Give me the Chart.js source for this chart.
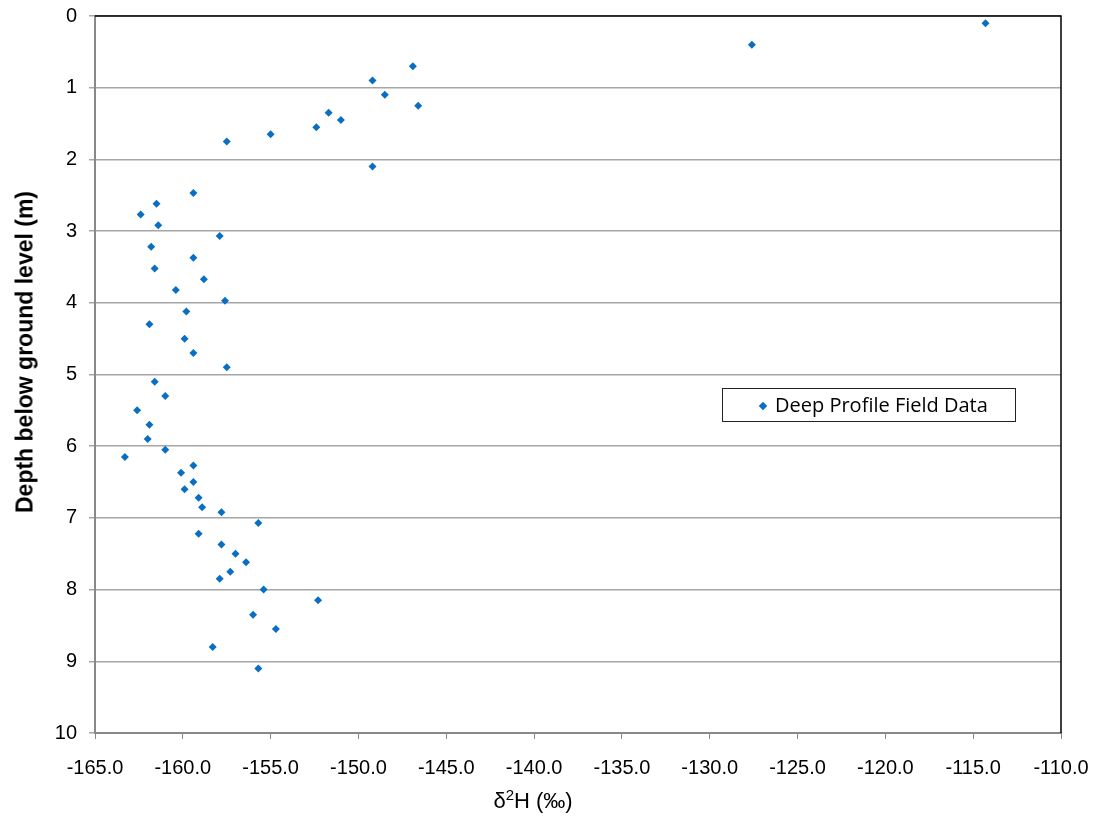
<!DOCTYPE html>
<html lang="en">
<head>
    <meta charset="UTF-8">
    <title>Deep Profile Field Data</title>
    <style>
        body {
            margin: 0;
            background: #ffffff;
            font-family: "Liberation Sans", Arial, sans-serif;
        }

        #wrap {
            position: relative;
            width: 1100px;
            height: 820px;
        }

        #yTitle {
            position: absolute;
            left: 25px;
            top: 352px;
            transform: translate(-50%, -50%) rotate(-90deg);
            font-size: 23px;
            font-weight: bold;
            white-space: nowrap;
            color: #000;
        }

        #xTitle {
            position: absolute;
            left: 533px;
            top: 800px;
            transform: translate(-50%, -50%);
            font-size: 22px;
            white-space: nowrap;
            color: #000;
        }

        #xTitle sup {
            font-size: 15px;
        }

        #legendBox {
            position: absolute;
            left: 722px;
            top: 388px;
            width: 292px;
            height: 32px;
            border: 1.5px solid #222;
            font-family: "Open Sans", sans-serif;
            font-size: 20px;
            line-height: 32px;
            color: #000;
        }

        #legendBox .mark {
            display: inline-block;
            width: 6px;
            height: 6px;
            background: #0a6fc2;
            transform: rotate(45deg);
            margin: 0 9px 3px 37px;
        }
    </style>
    <script src="https://cdn.jsdelivr.net/npm/chart.js"></script>
</head>
<body>

    <div id="wrap">
        <canvas id="depthChart" width="1100" height="820"></canvas>
        <div id="yTitle">Depth below ground level (m)</div>
        <div id="xTitle">&delta;<sup>2</sup>H (&permil;)</div>
        <div id="legendBox"><span class="mark"></span>Deep Profile Field Data</div>
    </div>

    <script>
    // Messwerte: Tiefe (m) und delta2H (permil)
    const seriesName = 'Deep Profile Field Data';
    const depth = [0.10, 0.40, 0.70, 0.90, 1.10, 1.25, 1.35, 1.45, 1.55, 1.65,
                   1.75, 2.10, 2.47, 2.62, 2.77, 2.92, 3.07, 3.22, 3.37, 3.52,
                   3.67, 3.82, 3.97, 4.12, 4.30, 4.50, 4.70, 4.90, 5.10, 5.30,
                   5.50, 5.70, 5.90, 6.05, 6.15, 6.27, 6.37, 6.50, 6.60, 6.72,
                   6.85, 6.92, 7.07, 7.22, 7.37, 7.50, 7.62, 7.75, 7.85, 8.00,
                   8.15, 8.35, 8.55, 8.80, 9.10];
    const d2H = [-114.3, -127.6, -146.9, -149.2, -148.5, -146.6, -151.7, -151.0, -152.4, -155.0,
                 -157.5, -149.2, -159.4, -161.5, -162.4, -161.4, -157.9, -161.8, -159.4, -161.6,
                 -158.8, -160.4, -157.6, -159.8, -161.9, -159.9, -159.4, -157.5, -161.6, -161.0,
                 -162.6, -161.9, -162.0, -161.0, -163.3, -159.4, -160.1, -159.4, -159.9, -159.1,
                 -158.9, -157.8, -155.7, -159.1, -157.8, -157.0, -156.4, -157.3, -157.9, -155.4,
                 -152.3, -156.0, -154.7, -158.3, -155.7];

    // Achsen
    const xMin = -165, xMax = -110, xStep = 5;
    const yMin = 0, yMax = 10, yStep = 1;

    const points = depth.map((d, i) => ({ x: d2H[i], y: d }));

    // Rahmen oben und rechts schwarz
    const frame = {
        id: 'frame',
        afterDraw(chart) {
            const { ctx, chartArea: a } = chart;
            ctx.save();
            ctx.strokeStyle = '#000';
            ctx.lineWidth = 1.5;
            ctx.beginPath();
            ctx.moveTo(a.left, a.top);
            ctx.lineTo(a.right, a.top);
            ctx.lineTo(a.right, a.bottom);
            ctx.stroke();
            ctx.restore();
        }
    };

    const tickFont = { family: '"Liberation Sans", Arial, sans-serif', size: 20 };

    new Chart(document.getElementById('depthChart'), {
        type: 'scatter',
        data: {
            datasets: [{
                label: seriesName,
                data: points,
                pointStyle: 'rectRot',
                pointRadius: 4,
                pointHoverRadius: 4,
                backgroundColor: '#0a6fc2',
                borderColor: '#0a6fc2',
                borderWidth: 0
            }]
        },
        options: {
            responsive: false,
            animation: false,
            layout: { padding: { left: 0, top: 16, right: 39, bottom: 0 } },
            plugins: {
                legend: { display: false },
                tooltip: { enabled: false }
            },
            scales: {
                x: {
                    type: 'linear',
                    min: xMin,
                    max: xMax,
                    ticks: {
                        stepSize: xStep,
                        color: '#000',
                        font: tickFont,
                        padding: 17,
                        maxRotation: 0,
                        callback: v => v.toFixed(1)
                    },
                    grid: {
                        drawOnChartArea: false,
                        drawTicks: true,
                        tickLength: 6,
                        color: '#888'
                    },
                    border: { color: '#888', width: 2 },
                    afterFit: s => {
                        s.height = 87;
                        s.paddingLeft = 0;
                        s.paddingRight = 0;
                    }
                },
                y: {
                    type: 'linear',
                    reverse: true,
                    min: yMin,
                    max: yMax,
                    ticks: {
                        stepSize: yStep,
                        color: '#000',
                        font: tickFont,
                        padding: 12
                    },
                    grid: {
                        color: '#a6a6a6',
                        lineWidth: 1.5,
                        drawTicks: true,
                        tickLength: 6
                    },
                    border: { color: '#888', width: 2 },
                    afterFit: s => {
                        s.width = 95;
                        s.paddingTop = 0;
                        s.paddingBottom = 0;
                    }
                }
            }
        },
        plugins: [frame]
    });
    </script>
</body>
</html>
